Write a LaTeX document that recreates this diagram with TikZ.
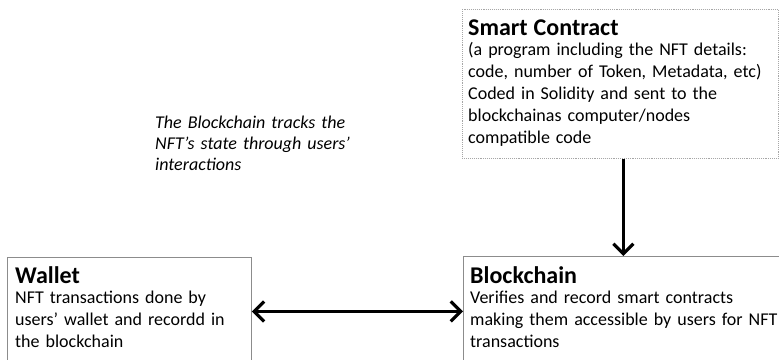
\documentclass[tikz,border=0pt]{standalone}
\usepackage{fontspec}
\setmainfont{Carlito}
\usetikzlibrary{arrows.meta}
\definecolor{boxgray}{HTML}{8C8C8C}
\definecolor{dotgray}{HTML}{A6A6A6}
\tikzset{
  boxshape/.style={draw=boxgray, line width=0.9pt, inner sep=0pt, anchor=north west},
  scshape/.style={draw=dotgray, line width=0.9pt, densely dotted, inner sep=0pt, anchor=north west},
  txt/.style={inner sep=0pt, anchor=base west, text width=320pt, align=left, font=\fontsize{18}{22}\selectfont},
  arr/.style={line width=3pt, -{Straight Barb[length=10pt,width=20pt,line width=3.2pt]}},
  darr/.style={line width=3pt, {Straight Barb[length=10pt,width=20pt,line width=3.2pt]}-{Straight Barb[length=10pt,width=20pt,line width=3.2pt]}},
}
\begin{document}
\begin{tikzpicture}[x=1pt,y=-1pt]
\useasboundingbox (0,0) rectangle (779,359);
\clip (0,0) rectangle (779,359);
% boxes
\node[scshape, minimum width=316pt, minimum height=149pt] (sc) at (462,9) {};
\node[boxshape, minimum width=244pt, minimum height=108pt] (wal) at (7,257) {};
\node[boxshape, minimum width=330pt, minimum height=110pt] (bc) at (463,256) {};
% texts
\node[txt] (sctxt) at (468,35) {{\fontsize{24}{24}\selectfont\bfseries Smart Contract}\\[-2pt]
(a program including the NFT details:\\
code, number of Token, Metadata, etc)\\
Coded in Solidity and sent to the\\
blockchainas computer/nodes\\
compatible code};
\node[txt] (waltxt) at (15,283) {{\fontsize{24}{24}\selectfont\bfseries Wallet}\\[-2pt]
NFT transactions done by\\
users’ wallet and recordd in\\
the blockchain};
\node[txt] (bctxt) at (470,283) {{\fontsize{24}{24}\selectfont\bfseries Blockchain}\\[-2pt]
Verifies and record smart contracts\\
making them accessible by users for NFT\\
transactions};
\node[txt, font=\fontsize{18}{21}\selectfont\itshape] (note) at (155,128) {The Blockchain tracks the\\
NFT’s state through users’\\
interactions};
% connectors
\draw[arr] ([xshift=3pt]sc.south) -- ([xshift=3pt]sc.south |- bc.north);
\draw[darr] (wal.east) -- (wal.east -| bc.west);
\end{tikzpicture}
\end{document}
